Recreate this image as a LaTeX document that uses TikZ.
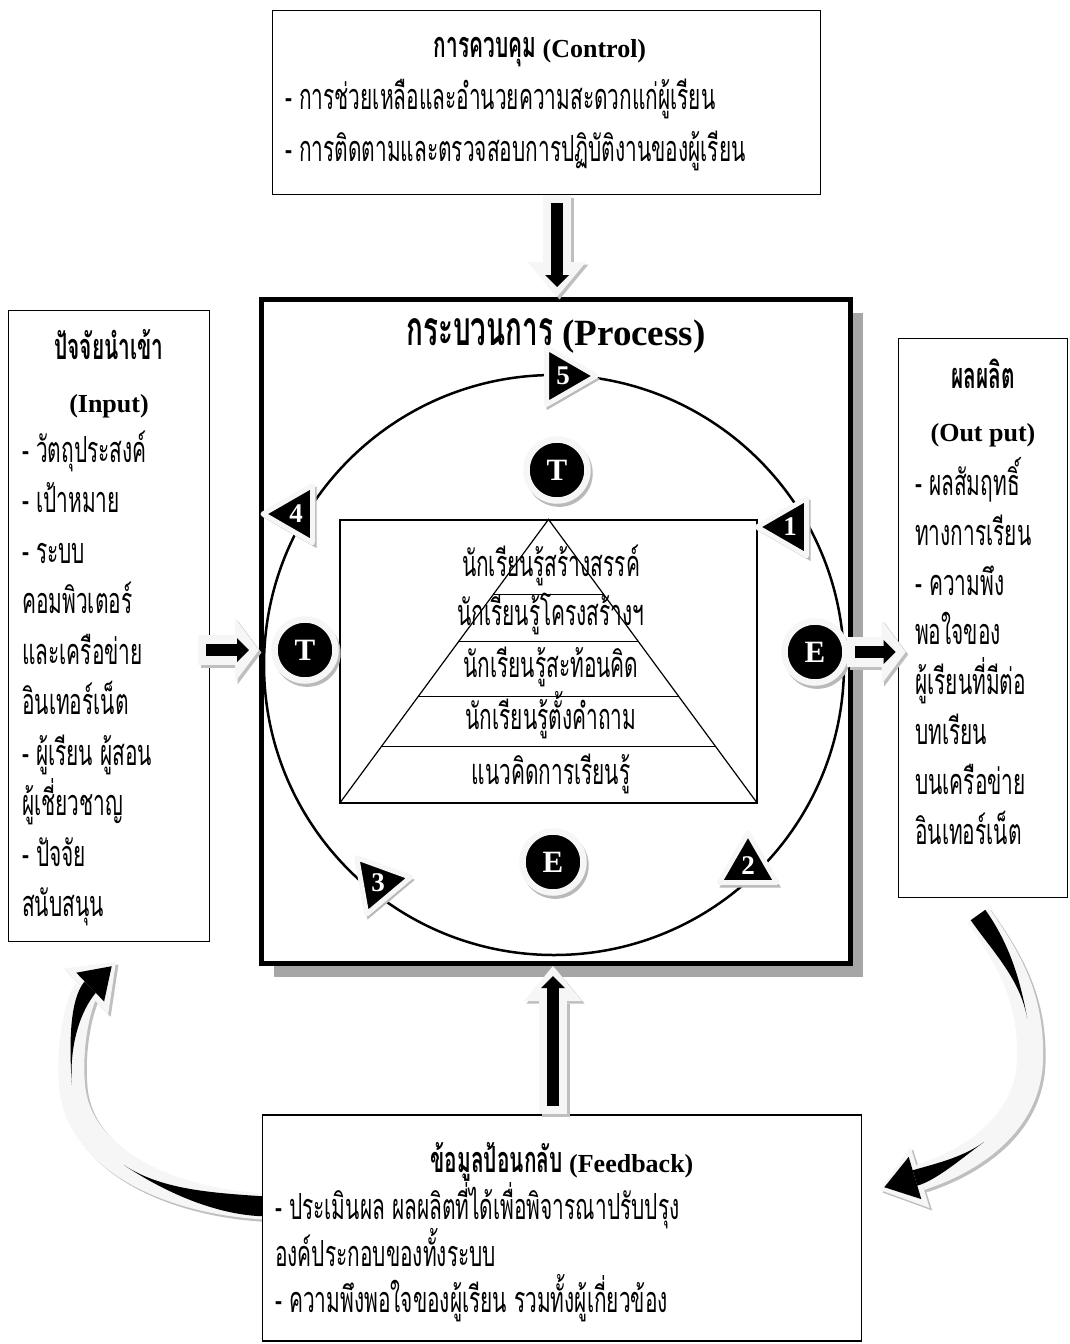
\documentclass[tikz,border=0pt]{standalone}
\usepackage{fontspec}
\setmainfont{Liberation Serif}
\newfontfamily\thaifont[Script=Thai,FakeStretch=0.58]{Loma}
\usetikzlibrary{arrows.meta,shapes.geometric,shadows,calc}
\newcommand{\thaitxt}[1]{{\thaifont\fontsize{36}{40}\selectfont #1}}

\begin{document}
\begin{tikzpicture}[x=1pt,y=-1pt,
        caja/.style={draw,line width=1.6pt,fill=white,inner sep=0pt},
        texto/.style={font=\thaifont\fontsize{36}{40}\selectfont,anchor=base west,inner sep=0pt},
        centro/.style={font=\thaifont\fontsize{36}{40}\selectfont,anchor=base,inner sep=0pt},
        titulo/.style={font=\bfseries\fontsize{26}{30}\selectfont,anchor=base,inner sep=0pt},
        letra/.style={circle,fill=black,draw=claro,line width=6.5pt,minimum size=61pt,inner sep=0pt,
            text=white,font=\bfseries\fontsize{31}{31}\selectfont,
            drop shadow={shadow xshift=2pt,shadow yshift=-3pt,shadow scale=1.1,fill=gray!55,opacity=1}},
        paso/.style={regular polygon,regular polygon sides=3,shape border rotate=#1,minimum size=66pt,
            inner sep=0pt,fill=black,draw=claro,line width=5pt,line join=round,
            text=white,font=\bfseries\fontsize{27}{27}\selectfont,
            drop shadow={shadow xshift=2pt,shadow yshift=-3pt,shadow scale=1.08,fill=gray!55,opacity=1}},
        vbloque/.style={line width=28pt,-{Triangle[width=58pt,length=35pt,line width=0pt]}},
        hbloque/.style={line width=30pt,-{Triangle[width=64pt,length=24pt,line width=0pt]}},
        nucleo/.style={black,line width=12pt,shorten <=8pt,shorten >=10pt,
            -{Triangle[width=24pt,length=12pt,line width=0pt]}},
        curva/.style={line width=26pt,-{Triangle[width=64pt,length=42pt,line width=0pt]}},
        sombra/.style={gray!50,transform canvas={xshift=2.5pt,yshift=-2.5pt}}
    ]
    %colores
    \colorlet{claro}{gray!7}
    \useasboundingbox (0,0) rectangle (1070,1344);

    % Flechas curvas
    \coordinate (colaizq) at (268,1206);
    \coordinate (puntaizq) at (116,962);
    \coordinate (colader) at (978,915);
    \coordinate (puntader) at (880,1190);
    \draw[curva,sombra] (colaizq) -- (258,1206) .. controls (170,1200) and (78,1160) .. (72,1085)
        .. controls (68,1035) and (82,995) .. (puntaizq);
    \draw[curva,claro] (colaizq) -- (258,1206) .. controls (170,1200) and (78,1160) .. (72,1085)
        .. controls (68,1035) and (82,995) .. (puntaizq);
    \fill (268,1196) -- (258.7,1196) .. controls (210.3,1192.7) and (159.9,1189.1) .. (124.1,1165.1)
        .. controls (159.9,1189.1) and (208.9,1212.7) .. (257.3,1216) -- (268,1216) -- cycle;
    \fill (72,1085) .. controls (69,1045) and (80.6,1010.7) .. (95.8,992.8) -- (84.6,981.4)
        .. controls (69.4,999.3) and (69,1045) .. (72,1085) -- cycle;
    \fill (111.7,966.2) -- (104.1,1001.5) -- (76.3,972.7) -- cycle;

    \draw[curva,sombra] (colader) .. controls (1010,960) and (1032,1000) .. (1030,1060)
        .. controls (1028,1130) and (960,1165) .. (puntader);
    \draw[curva,claro] (colader) .. controls (1010,960) and (1032,1000) .. (1030,1060)
        .. controls (1028,1130) and (960,1165) .. (puntader);
    \fill (985.3,909.8) .. controls (1009.3,943.5) and (1020.4,979.7) .. (1027.2,1018.6)
        .. controls (1020.4,979.7) and (994.7,954) .. (970.7,920.2) -- cycle;
    \fill (984,1142) .. controls (962,1158) and (937.3,1179.7) .. (917.3,1185.7) -- (912.7,1170.3)
        .. controls (932.7,1164.3) and (962,1158) .. (984,1142) -- cycle;
    \fill (884.3,1187.2) -- (921.3,1199.1) -- (908.7,1156.9) -- cycle;

    % Caja control
    \node[caja,minimum width=548pt,minimum height=184pt] (control) at (546.5,102.5) {};
    \node[titulo] (ctit) at (540,57) {\thaitxt{การควบคุม} (Control)};
    \node[texto] (c1) at (285,109) {- การช่วยเหลือและอำนวยความสะดวกแก่ผู้เรียน};
    \node[texto] (c2) at (285,161) {- การติดตามและตรวจสอบการปฏิบัติงานของผู้เรียน};

    % Caja proceso
    \node[draw,line width=5pt,fill=white,minimum width=589pt,minimum height=664pt,inner sep=0pt,
        drop shadow={shadow xshift=12pt,shadow yshift=-13pt,fill=gray!70,opacity=1}] (process) at (556,631.5) {};
    \node[anchor=base,inner sep=0pt,font=\bfseries\fontsize{37}{40}\selectfont] (ptit) at (556,345)
        {{\thaifont\fontsize{48}{50}\selectfont กระบวนการ} (Process)};
    \node[circle,draw,line width=2.5pt,minimum size=580pt,inner sep=0pt] (aro) at (554,665) {};

    % Piramide
    \node[draw,line width=1.2pt,minimum width=417pt,minimum height=283pt,inner sep=0pt] (marco) at (548.5,661.5) {};
    \draw[line width=1.2pt] (marco.south west) -- (marco.north) -- (marco.south east);
    \foreach \f in {0.265,0.431,0.622,0.799}
        \draw[line width=1.2pt] ($(marco.north)!\f!(marco.south west)$) -- ($(marco.north)!\f!(marco.south east)$);
    \foreach \y/\nivel in {576/นักเรียนรู้สร้างสรรค์,625/นักเรียนรู้โครงสร้างฯ,677/นักเรียนรู้สะท้อนคิด,729/นักเรียนรู้ตั้งคำถาม,784/แนวคิดการเรียนรู้}
        \node[centro] (n\y) at (551,\y) {\nivel};

    % Circulos T y E
    \node[letra] (tarriba) at (557,470) {T};
    \node[letra] (tizq) at (305,650) {T};
    \node[letra] (eder) at (815,652) {E};
    \node[letra] (eabajo) at (553,862) {E};

    % Triangulos numerados
    \node[paso=-90] (p5) at (563,376) {5};
    \node[paso=90] (p1) at (790,527) {1};
    \node[paso=0] (p2) at (748,866) {2};
    \node[paso=160] (p3) at (378,883) {3};
    \node[paso=90] (p4) at (296,514) {4};

    % Caja entrada
    \node[caja,minimum width=201pt,minimum height=631pt] (input) at (109,626) {};
    \node[titulo] (itit) at (109,359) {\thaitxt{ปัจจัยนำเข้า}};
    \node[titulo] (iing) at (109,412) {(Input)};
    \foreach \y/\linea in {462/- วัตถุประสงค์,512/- เป้าหมาย,563/- ระบบ,613/คอมพิวเตอร์,664/และเครือข่าย,714/อินเทอร์เน็ต,765/- ผู้เรียน ผู้สอน,815/ผู้เชี่ยวชาญ,866/- ปัจจัย,916/สนับสนุน}
        \node[texto] (i\y) at (22,\y) {\linea};

    % Caja salida
    \node[caja,minimum width=169pt,minimum height=559pt] (output) at (983,618) {};
    \node[titulo] (otit) at (983,388) {\thaitxt{ผลผลิต}};
    \node[titulo] (oing) at (983,441) {(Out put)};
    \foreach \y/\linea in {495/- ผลสัมฤทธิ์,545/ทางการเรียน,595/- ความพึง,644/พอใจของ,694/ผู้เรียนที่มีต่อ,744/บทเรียน,794/บนเครือข่าย,844/อินเทอร์เน็ต}
        \node[texto] (o\y) at (915,\y) {\linea};

    % Caja retroalimentacion
    \node[caja,minimum width=599pt,minimum height=226pt] (feedback) at (562,1228) {};
    \node[titulo] (ftit) at (562,1172) {\thaitxt{ข้อมูลป้อนกลับ} (Feedback)};
    \foreach \y/\linea in {1219/- ประเมินผล ผลผลิตที่ได้เพื่อพิจารณาปรับปรุง,1266/องค์ประกอบของทั้งระบบ,1312/- ความพึงพอใจของผู้เรียน รวมทั้งผู้เกี่ยวข้อง}
        \node[texto] (f\y) at (275,\y) {\linea};

    % Flechas de bloque
    \draw[vbloque,sombra] (control.south -| tarriba) -- (process.north -| tarriba);
    \draw[vbloque,claro] (control.south -| tarriba) -- (process.north -| tarriba);
    \draw[nucleo] (control.south -| tarriba) -- (process.north -| tarriba);

    \draw[vbloque,sombra] (feedback.north -| eabajo) -- (process.south -| eabajo);
    \draw[vbloque,claro] (feedback.north -| eabajo) -- (process.south -| eabajo);
    \draw[nucleo] (feedback.north -| eabajo) -- (process.south -| eabajo);

    \draw[hbloque,sombra] ($(input.east |- tizq)+(-12,0)$) -- (process.west |- tizq);
    \draw[hbloque,claro] ($(input.east |- tizq)+(-12,0)$) -- (process.west |- tizq);
    \draw[nucleo] ($(input.east |- tizq)+(-12,0)$) -- (process.west |- tizq);

    \draw[hbloque,sombra] ($(process.east |- eder)+(-6,0)$) -- ($(output.west |- eder)+(8,0)$);
    \draw[hbloque,claro] ($(process.east |- eder)+(-6,0)$) -- ($(output.west |- eder)+(8,0)$);
    \draw[nucleo] ($(process.east |- eder)+(-6,0)$) -- ($(output.west |- eder)+(8,0)$);
\end{tikzpicture}
\end{document}
